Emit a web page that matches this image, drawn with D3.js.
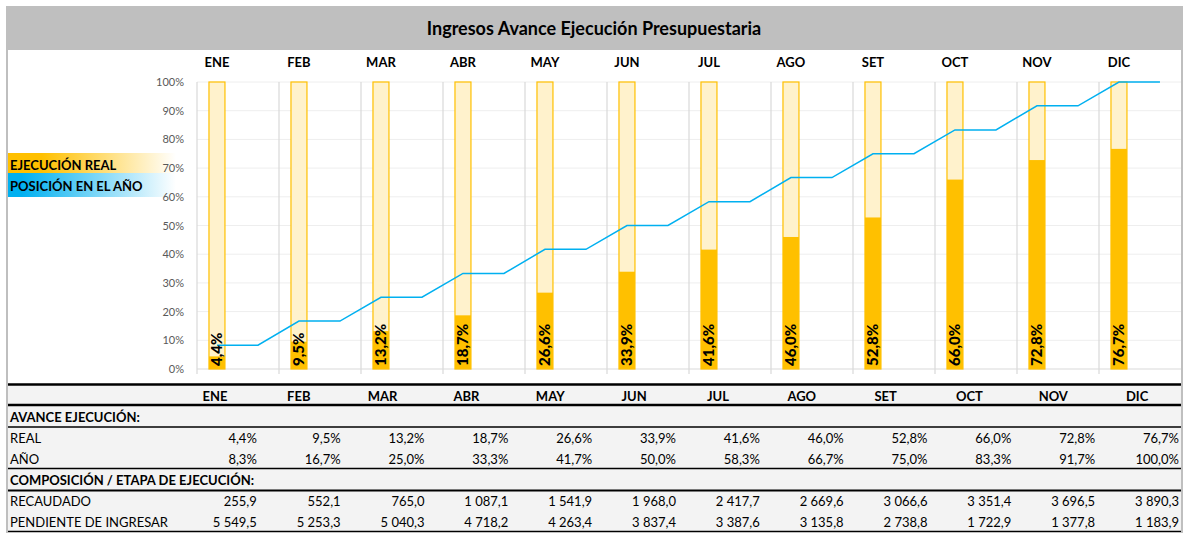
<!DOCTYPE html>
<html>
<head>
<meta charset="utf-8">
<script src="https://cdn.jsdelivr.net/npm/d3@7"></script>
<style>
  html, body { margin: 0; padding: 0; background: #ffffff; }
  svg { display: block; }
</style>
</head>
<body>
<div id="chart"></div>
<script>
// Ingresos – avance de ejecución presupuestaria: bars (real) + stepped line (año) + table below.

const months = ["ENE", "FEB", "MAR", "ABR", "MAY", "JUN", "JUL", "AGO", "SET", "OCT", "NOV", "DIC"];
const realPct = [4.4, 9.5, 13.2, 18.7, 26.6, 33.9, 41.6, 46.0, 52.8, 66.0, 72.8, 76.7];
const yearPct = [8.3, 16.7, 25.0, 33.3, 41.7, 50.0, 58.3, 66.7, 75.0, 83.3, 91.7, 100.0];
const recaudado = [255.9, 552.1, 765.0, 1087.1, 1541.9, 1968.0, 2417.7, 2669.6, 3066.6, 3351.4, 3696.5, 3890.3];
const pendiente = [5549.5, 5253.3, 5040.3, 4718.2, 4263.4, 3837.4, 3387.6, 3135.8, 2738.8, 1722.9, 1377.8, 1183.9];
const yTicks = [0, 0.1, 0.2, 0.3, 0.4, 0.5, 0.6, 0.7, 0.8, 0.9, 1.0];

const W = 1186, H = 533;
const FONT = "Lato, 'Open Sans', 'Noto Sans', sans-serif";
const GOLD = "#ffc000", GOLD_PALE = "#fff2cc", BLUE = "#00b0f0";

const locale = d3.formatLocale({ decimal: ",", thousands: "\u00a0", grouping: [3], currency: ["", ""] });
const fmtNum = locale.format(",.1f");
const fmtPct = (v) => locale.format(".1f")(v) + "%";

const svg = d3.select("#chart").append("svg")
  .attr("width", W).attr("height", H)
  .attr("viewBox", `0 0 ${W} ${H}`)
  .attr("font-family", FONT);

// gradients for the legend strips
const defs = svg.append("defs");
function grad(id, color, solidTo) {
  const g = defs.append("linearGradient").attr("id", id).attr("x1", 0).attr("x2", 1).attr("y1", 0).attr("y2", 0);
  g.append("stop").attr("offset", 0).attr("stop-color", color);
  g.append("stop").attr("offset", solidTo).attr("stop-color", color);
  g.append("stop").attr("offset", 1).attr("stop-color", "#ffffff");
}
grad("gGold", GOLD, 0.2);
grad("gBlue", BLUE, 0.08);

// frame + title band
svg.append("rect").attr("x", 6).attr("y", 6).attr("width", 1176).attr("height", 44).attr("fill", "#bfbfbf");
svg.append("text")
  .attr("x", 594).attr("y", 35)
  .attr("text-anchor", "middle")
  .attr("font-size", 18).attr("font-weight", 700).attr("fill", "#000")
  .text("Ingresos Avance Ejecución Presupuestaria");

// legend strips (drawn under the axis labels, which show through the fade)
svg.append("rect").attr("x", 8).attr("y", 153).attr("width", 168).attr("height", 20).attr("fill", "url(#gGold)");
svg.append("rect").attr("x", 8).attr("y", 173).attr("width", 168).attr("height", 24).attr("fill", "url(#gBlue)");
svg.append("text").attr("x", 10).attr("y", 170).attr("font-size", 13).attr("font-weight", 700).text("EJECUCIÓN REAL");
svg.append("text").attr("x", 10).attr("y", 191).attr("font-size", 13).attr("font-weight", 700).text("POSICIÓN EN EL AÑO");

// scales
const x = d3.scaleBand().domain(months).range([197, 1181]).padding(0);
const bw = x.bandwidth();
const barW = bw * 0.195;
const barOff = bw * 0.146;
const cx = (m) => x(m) + barOff + barW / 2;
const y = d3.scaleLinear().domain([0, 1]).range([369, 82]);

// horizontal gridlines
svg.append("g").selectAll("line").data(yTicks.slice(1)).join("line")
  .attr("x1", 197).attr("x2", 1181)
  .attr("y1", (d) => y(d)).attr("y2", (d) => y(d))
  .attr("stroke", "#eeeeee").attr("stroke-width", 1);

// vertical category separators
svg.append("g").selectAll("line").data(months).join("line")
  .attr("x1", (m) => x(m)).attr("x2", (m) => x(m))
  .attr("y1", y(1)).attr("y2", y(0) + 5)
  .attr("stroke", "#d9d9d9").attr("stroke-width", 1.2);

// x baseline
svg.append("line")
  .attr("x1", 197).attr("x2", 1181).attr("y1", y(0)).attr("y2", y(0))
  .attr("stroke", "#d9d9d9").attr("stroke-width", 1.2);

// y axis
const yAxis = svg.append("g")
  .attr("transform", "translate(197,0)")
  .call(d3.axisLeft(y).tickValues(yTicks).tickFormat(d3.format(".0%")).tickSize(0).tickPadding(13));
yAxis.select(".domain").remove();
yAxis.selectAll("text").attr("font-family", FONT).attr("font-size", 11).attr("fill", "#595959");

// month labels above bars
svg.append("g").selectAll("text").data(months).join("text")
  .attr("x", (m) => cx(m)).attr("y", 67)
  .attr("text-anchor", "middle")
  .attr("font-size", 13).attr("font-weight", 700).attr("fill", "#000")
  .text((m) => m);

// background (100%) bars
svg.append("g").selectAll("rect").data(months).join("rect")
  .attr("x", (m) => x(m) + barOff).attr("width", barW)
  .attr("y", y(1)).attr("height", y(0) - y(1))
  .attr("fill", GOLD_PALE).attr("stroke", GOLD).attr("stroke-width", 1.2);

// real execution bars
svg.append("g").selectAll("rect").data(months).join("rect")
  .attr("x", (m) => x(m) + barOff).attr("width", barW)
  .attr("y", (m, i) => y(realPct[i] / 100))
  .attr("height", (m, i) => y(0) - y(realPct[i] / 100))
  .attr("fill", GOLD);

// stepped "posición en el año" line
const linePts = [];
months.forEach((m, i) => {
  linePts.push([cx(m), y(yearPct[i] / 100)]);
  linePts.push([cx(m) + bw / 2, y(yearPct[i] / 100)]);
});
svg.append("path")
  .attr("d", d3.line()(linePts))
  .attr("fill", "none").attr("stroke", BLUE).attr("stroke-width", 1.5);

// rotated data labels
svg.append("g").selectAll("text").data(months).join("text")
  .attr("transform", (m) => `translate(${cx(m) + 5.5},${y(0) - 3}) rotate(-90)`)
  .attr("font-size", 15).attr("font-weight", 900).attr("fill", "#000")
  .text((m, i) => fmtPct(realPct[i]));

// ---- table ----
const col = d3.scaleBand().domain(months).range([173, 1179]).padding(0);
const cw = col.bandwidth();

svg.append("rect").attr("x", 8).attr("y", 384).attr("width", 1173).attr("height", 148).attr("fill", "#f3f3f3");

const tableRows = [
  { label: "", y: 401, header: true },
  { label: "AVANCE EJECUCIÓN:", y: 422, bold: true },
  { label: "REAL", y: 443, values: realPct, fmt: fmtPct },
  { label: "AÑO", y: 464, values: yearPct, fmt: fmtPct },
  { label: "COMPOSICIÓN / ETAPA DE EJECUCIÓN:", y: 485, bold: true },
  { label: "RECAUDADO", y: 506, values: recaudado, fmt: fmtNum },
  { label: "PENDIENTE DE INGRESAR", y: 527, values: pendiente, fmt: fmtNum },
];
const tableLines = [
  { y: 384.5, w: 2.5 },
  { y: 405, w: 2.5 },
  { y: 427, w: 1.3 },
  { y: 468.5, w: 1.3 },
  { y: 490.5, w: 2 },
  { y: 531.5, w: 1.3 },
];

const gT = svg.append("g").attr("font-size", 13).attr("fill", "#000");
for (const r of tableRows) {
  if (r.header) {
    gT.append("g").selectAll("text").data(months).join("text")
      .attr("x", (m) => col(m) + cw / 2).attr("y", r.y)
      .attr("text-anchor", "middle").attr("font-weight", 700)
      .text((m) => m);
    continue;
  }
  gT.append("text").attr("x", 10).attr("y", r.y)
    .attr("font-weight", r.bold ? 700 : 400)
    .text(r.label);
  if (r.values) {
    gT.append("g").selectAll("text").data(r.values).join("text")
      .attr("x", (v, i) => col(months[i]) + cw).attr("y", r.y)
      .attr("text-anchor", "end")
      .text((v) => r.fmt(v));
  }
}

svg.append("g").selectAll("line").data(tableLines).join("line")
  .attr("x1", 8).attr("x2", 1181)
  .attr("y1", (d) => d.y).attr("y2", (d) => d.y)
  .attr("stroke", "#000").attr("stroke-width", (d) => d.w);

// side borders
svg.append("line").attr("x1", 7).attr("x2", 7).attr("y1", 6).attr("y2", 533).attr("stroke", "#bfbfbf").attr("stroke-width", 2);
svg.append("line").attr("x1", 1182).attr("x2", 1182).attr("y1", 6).attr("y2", 533).attr("stroke", "#bfbfbf").attr("stroke-width", 2);
</script>
</body>
</html>
